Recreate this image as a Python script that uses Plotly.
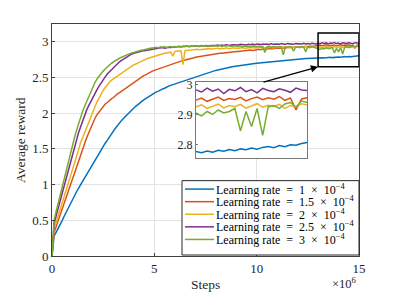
import plotly.graph_objects as go

# x grid: training steps in units of 1e6 (0 to 15, step 0.1)
steps = [round(i * 0.1, 1) for i in range(151)]

lr_1e4 = [
    0, 0.28, 0.33, 0.38, 0.44, 0.50, 0.56, 0.62, 0.68, 0.74,
    0.80, 0.85, 0.90, 0.95, 1.00, 1.05, 1.10, 1.15, 1.20, 1.25,
    1.30, 1.34, 1.38, 1.43, 1.48, 1.53, 1.58, 1.62, 1.67, 1.71,
    1.75, 1.79, 1.83, 1.86, 1.90, 1.93, 1.96, 1.99, 2.02, 2.05,
    2.07, 2.10, 2.12, 2.15, 2.17, 2.19, 2.21, 2.23, 2.25, 2.27,
    2.28, 2.30, 2.31, 2.33, 2.34, 2.35, 2.37, 2.38, 2.39, 2.40,
    2.41, 2.42, 2.43, 2.44, 2.45, 2.46, 2.47, 2.48, 2.49, 2.50,
    2.51, 2.52, 2.53, 2.54, 2.55, 2.56, 2.57, 2.58, 2.585, 2.59,
    2.60, 2.605, 2.61, 2.62, 2.625, 2.63, 2.64, 2.645, 2.65, 2.655,
    2.66, 2.663, 2.668, 2.672, 2.676, 2.680, 2.684, 2.688, 2.692, 2.696,
    2.70, 2.703, 2.707, 2.710, 2.714, 2.717, 2.721, 2.724, 2.728, 2.731,
    2.735, 2.737, 2.740, 2.742, 2.745, 2.747, 2.750, 2.752, 2.755, 2.757,
    2.760, 2.761, 2.763, 2.765, 2.766, 2.768, 2.770, 2.771, 2.773, 2.774,
    2.776, 2.772, 2.778, 2.774, 2.780, 2.777, 2.783, 2.779, 2.785, 2.782,
    2.788, 2.784, 2.790, 2.793, 2.789, 2.796, 2.792, 2.799, 2.797, 2.803,
    2.806,
]

lr_15e4 = [
    0, 0.33, 0.41, 0.49, 0.58, 0.66, 0.74, 0.83, 0.91, 1.00,
    1.08, 1.16, 1.25, 1.33, 1.41, 1.49, 1.58, 1.66, 1.73, 1.81,
    1.88, 1.93, 1.98, 2.02, 2.06, 2.10, 2.13, 2.15, 2.18, 2.20,
    2.22, 2.25, 2.27, 2.29, 2.31, 2.33, 2.35, 2.38, 2.40, 2.42,
    2.44, 2.46, 2.48, 2.49, 2.51, 2.53, 2.54, 2.56, 2.57, 2.59,
    2.60, 2.61, 2.63, 2.64, 2.65, 2.66, 2.67, 2.68, 2.69, 2.70,
    2.70, 2.71, 2.72, 2.73, 2.74, 2.745, 2.75, 2.76, 2.77, 2.775,
    2.785, 2.79, 2.80, 2.80, 2.81, 2.81, 2.815, 2.82, 2.825, 2.83,
    2.83, 2.835, 2.84, 2.84, 2.845, 2.85, 2.85, 2.855, 2.86, 2.86,
    2.865, 2.865, 2.87, 2.875, 2.87, 2.88, 2.88, 2.885, 2.88, 2.89,
    2.89, 2.895, 2.89, 2.90, 2.895, 2.90, 2.905, 2.90, 2.905, 2.91,
    2.905, 2.91, 2.915, 2.91, 2.915, 2.92, 2.915, 2.92, 2.925, 2.92,
    2.925, 2.93, 2.925, 2.935, 2.93, 2.935, 2.94, 2.935, 2.94, 2.945,
    2.948, 2.955, 2.944, 2.952, 2.958, 2.947, 2.953, 2.950, 2.957, 2.945,
    2.953, 2.958, 2.949, 2.956, 2.951, 2.960, 2.947, 2.955, 2.915, 2.952,
    2.956,
]

lr_2e4 = [
    0, 0.38, 0.47, 0.56, 0.66, 0.75, 0.84, 0.94, 1.03, 1.13,
    1.22, 1.31, 1.40, 1.49, 1.59, 1.66, 1.74, 1.82, 1.89, 1.96,
    2.03, 2.10, 2.16, 2.21, 2.27, 2.32, 2.36, 2.40, 2.43, 2.46,
    2.48, 2.51, 2.53, 2.55, 2.57, 2.59, 2.61, 2.63, 2.65, 2.66,
    2.68, 2.69, 2.71, 2.72, 2.73, 2.75, 2.76, 2.77, 2.78, 2.79,
    2.80, 2.81, 2.815, 2.82, 2.83, 2.84, 2.845, 2.85, 2.855, 2.80,
    2.865, 2.87, 2.87, 2.875, 2.68, 2.88, 2.88, 2.885, 2.885, 2.89,
    2.89, 2.895, 2.89, 2.895, 2.90, 2.895, 2.90, 2.905, 2.90, 2.905,
    2.905, 2.91, 2.90, 2.91, 2.905, 2.915, 2.91, 2.905, 2.915, 2.91,
    2.915, 2.91, 2.915, 2.92, 2.91, 2.915, 2.92, 2.915, 2.92, 2.915,
    2.92, 2.915, 2.925, 2.915, 2.92, 2.925, 2.92, 2.925, 2.915, 2.925,
    2.92, 2.925, 2.92, 2.925, 2.93, 2.92, 2.925, 2.93, 2.925, 2.92,
    2.925, 2.93, 2.92, 2.93, 2.935, 2.925, 2.92, 2.93, 2.925, 2.93,
    2.925, 2.932, 2.920, 2.928, 2.935, 2.922, 2.930, 2.926, 2.934, 2.921,
    2.929, 2.936, 2.924, 2.931, 2.927, 2.934, 2.920, 2.930, 2.925, 2.936,
    2.932,
]

lr_25e4 = [
    0, 0.45, 0.56, 0.67, 0.78, 0.89, 0.99, 1.10, 1.21, 1.32,
    1.43, 1.54, 1.64, 1.73, 1.81, 1.90, 1.98, 2.05, 2.11, 2.17,
    2.22, 2.28, 2.33, 2.38, 2.43, 2.47, 2.51, 2.55, 2.58, 2.61,
    2.64, 2.67, 2.69, 2.72, 2.74, 2.76, 2.78, 2.80, 2.81, 2.83,
    2.84, 2.85, 2.855, 2.86, 2.87, 2.875, 2.88, 2.89, 2.895, 2.90,
    2.905, 2.91, 2.905, 2.915, 2.92, 2.91, 2.92, 2.925, 2.92, 2.925,
    2.93, 2.925, 2.935, 2.93, 2.935, 2.93, 2.94, 2.935, 2.94, 2.935,
    2.94, 2.945, 2.935, 2.945, 2.94, 2.95, 2.945, 2.94, 2.95, 2.945,
    2.95, 2.955, 2.945, 2.955, 2.95, 2.96, 2.955, 2.95, 2.96, 2.955,
    2.96, 2.955, 2.965, 2.96, 2.965, 2.955, 2.965, 2.96, 2.97, 2.96,
    2.965, 2.97, 2.96, 2.97, 2.965, 2.97, 2.96, 2.975, 2.965, 2.97,
    2.97, 2.965, 2.975, 2.97, 2.965, 2.975, 2.97, 2.975, 2.965, 2.975,
    2.97, 2.975, 2.97, 2.98, 2.97, 2.975, 2.97, 2.98, 2.975, 2.97,
    2.982, 2.975, 2.988, 2.978, 2.985, 2.970, 2.984, 2.979, 2.990, 2.976,
    2.983, 2.972, 2.987, 2.980, 2.976, 2.986, 2.981, 2.974, 2.988, 2.982,
    2.980,
]

lr_3e4 = [
    0, 0.50, 0.62, 0.74, 0.86, 0.98, 1.10, 1.21, 1.33, 1.44,
    1.55, 1.66, 1.76, 1.86, 1.95, 2.03, 2.10, 2.17, 2.23, 2.29,
    2.38, 2.43, 2.48, 2.52, 2.56, 2.59, 2.62, 2.65, 2.67, 2.70,
    2.72, 2.74, 2.755, 2.77, 2.785, 2.80, 2.81, 2.825, 2.835, 2.845,
    2.855, 2.865, 2.87, 2.88, 2.885, 2.89, 2.90, 2.905, 2.91, 2.915,
    2.92, 2.925, 2.915, 2.93, 2.925, 2.935, 2.92, 2.93, 2.935, 2.925,
    2.935, 2.93, 2.94, 2.925, 2.94, 2.935, 2.94, 2.93, 2.945, 2.935,
    2.94, 2.945, 2.935, 2.95, 2.94, 2.945, 2.935, 2.95, 2.94, 2.945,
    2.945, 2.94, 2.95, 2.935, 2.945, 2.94, 2.95, 2.94, 2.935, 2.945,
    2.94, 2.935, 2.945, 2.93, 2.94, 2.935, 2.94, 2.93, 2.94, 2.935,
    2.93, 2.94, 2.925, 2.935, 2.85, 2.93, 2.935, 2.925, 2.935, 2.93,
    2.925, 2.935, 2.93, 2.82, 2.93, 2.925, 2.935, 2.93, 2.87, 2.925,
    2.93, 2.92, 2.935, 2.925, 2.86, 2.93, 2.92, 2.935, 2.925, 2.92,
    2.905, 2.895, 2.91, 2.90, 2.915, 2.905, 2.91, 2.92, 2.845, 2.91,
    2.86, 2.92, 2.83, 2.925, 2.93, 2.92, 2.935, 2.94, 2.925, 2.945,
    2.94,
]

series = [lr_1e4, lr_15e4, lr_2e4, lr_25e4, lr_3e4]
lr_text = ["1", "1.5", "2", "2.5", "3"]
SP = "\u2002"
labels = ["Learning rate" + SP + "=" + SP + t + SP + "×" + SP + "10<sup>−4</sup>"
          for t in lr_text]
colors = ["#0072BD", "#D95319", "#EDB120", "#7E2F8E", "#77AC30"]

y_ticks = [0, 0.5, 1, 1.5, 2, 2.5, 3]
y_ticktext = ["0", "0.5", "1", "1.5", "2", "2.5", "3"]
x_ticks = [0, 5, 10, 15]
inset_ticks = [2.8, 2.9, 3.0]
inset_ticktext = ["2.8", "2.9", "3"]

FONT = "Liberation Serif"
TXT = "#262626"

fig = go.Figure()
for ys, lab, col in zip(series, labels, colors):
    fig.add_trace(go.Scatter(x=steps, y=ys, mode="lines", name=lab,
                             line=dict(color=col, width=1.5),
                             xaxis="x", yaxis="y"))
for ys, lab, col in zip(series, labels, colors):
    fig.add_trace(go.Scatter(x=steps[130:], y=ys[130:], mode="lines",
                             showlegend=False,
                             line=dict(color=col, width=1.5),
                             xaxis="x2", yaxis="y2"))

axcol = "#404040"
fig.update_layout(
    width=395, height=296,
    margin=dict(l=44, r=44, t=14, b=48),
    paper_bgcolor="white", plot_bgcolor="white",
    font=dict(family=FONT, size=13, color=TXT),
    showlegend=False,
    xaxis=dict(domain=[0, 1], range=[0, 15], tickvals=x_ticks,
               ticks="inside", ticklen=3, tickcolor=axcol,
               showline=True, mirror=True, linecolor=axcol, linewidth=1,
               showgrid=True, gridcolor="#e3e3e3", zeroline=False,
               tickfont=dict(family=FONT, size=13, color=TXT)),
    yaxis=dict(domain=[0, 1], range=[0, 3.25], tickvals=y_ticks,
               ticktext=y_ticktext,
               ticks="inside", ticklen=3, tickcolor=axcol,
               showline=True, mirror=True, linecolor=axcol, linewidth=1,
               showgrid=True, gridcolor="#e3e3e3", zeroline=False,
               tickfont=dict(family=FONT, size=13, color=TXT)),
    xaxis2=dict(domain=[0.469, 0.831], anchor="y2", range=[13, 15],
                showticklabels=False, ticks="", showgrid=False,
                showline=True, mirror=True, linecolor="#777777",
                linewidth=1, zeroline=False),
    yaxis2=dict(domain=[0.423, 0.752], anchor="x2", range=[2.755, 3.01],
                tickvals=inset_ticks, ticktext=inset_ticktext,
                ticks="inside", ticklen=2, tickcolor="#777777",
                showgrid=False, showline=True, mirror=True,
                linecolor="#777777", linewidth=1, zeroline=False,
                tickfont=dict(family=FONT, size=12, color=TXT)),
)

# zoom rectangle and arrow
fig.add_shape(type="rect", xref="x", yref="y", x0=13, x1=15, y0=2.65, y1=3.125,
              line=dict(color="black", width=1.5))
fig.add_annotation(x=13, y=2.65, ax=10.26, ay=2.43, xref="x", yref="y",
                   axref="x", ayref="y", text="", showarrow=True,
                   arrowhead=2, arrowsize=1.2, arrowwidth=1.2,
                   arrowcolor="black")

# helpers: screen pixel -> paper coordinates (plot area spans 52..359 x, 22..256 y)
def px_x(p):
    return (p - 52) / 307.0

def px_y(p):
    return (256 - p) / 234.0

# compact legend
fig.add_shape(type="rect", xref="paper", yref="paper",
              x0=px_x(182), x1=px_x(359), y0=px_y(255), y1=px_y(180),
              line=dict(color="#262626", width=1), fillcolor="white",
              layer="above")
for i, (lab, col) in enumerate(zip(labels, colors)):
    yy = px_y(188.5 + 12.7 * i)
    fig.add_shape(type="line", xref="paper", yref="paper",
                  x0=px_x(185), x1=px_x(214), y0=yy, y1=yy,
                  line=dict(color=col, width=1.5), layer="above")
    fig.add_annotation(text=lab, xref="paper", yref="paper", x=px_x(214), y=yy,
                       xanchor="left", yanchor="middle", showarrow=False,
                       font=dict(family=FONT, size=12, color="black"))

fig.add_annotation(text="Steps", xref="paper", yref="paper", x=0.5, y=px_y(285),
                   xanchor="center", yanchor="middle", showarrow=False,
                   font=dict(family=FONT, size=13.5, color=TXT))
fig.add_annotation(text="×10<sup>6</sup>", xref="paper", yref="paper",
                   x=px_x(359), y=px_y(283), xanchor="right", yanchor="middle",
                   showarrow=False,
                   font=dict(family=FONT, size=12.5, color=TXT))
fig.add_annotation(text="Average reward", xref="paper", yref="paper",
                   x=px_x(20), y=0.5, xanchor="center", yanchor="middle",
                   textangle=-90, showarrow=False,
                   font=dict(family=FONT, size=13.5, color=TXT))

fig.write_html("out.html")
